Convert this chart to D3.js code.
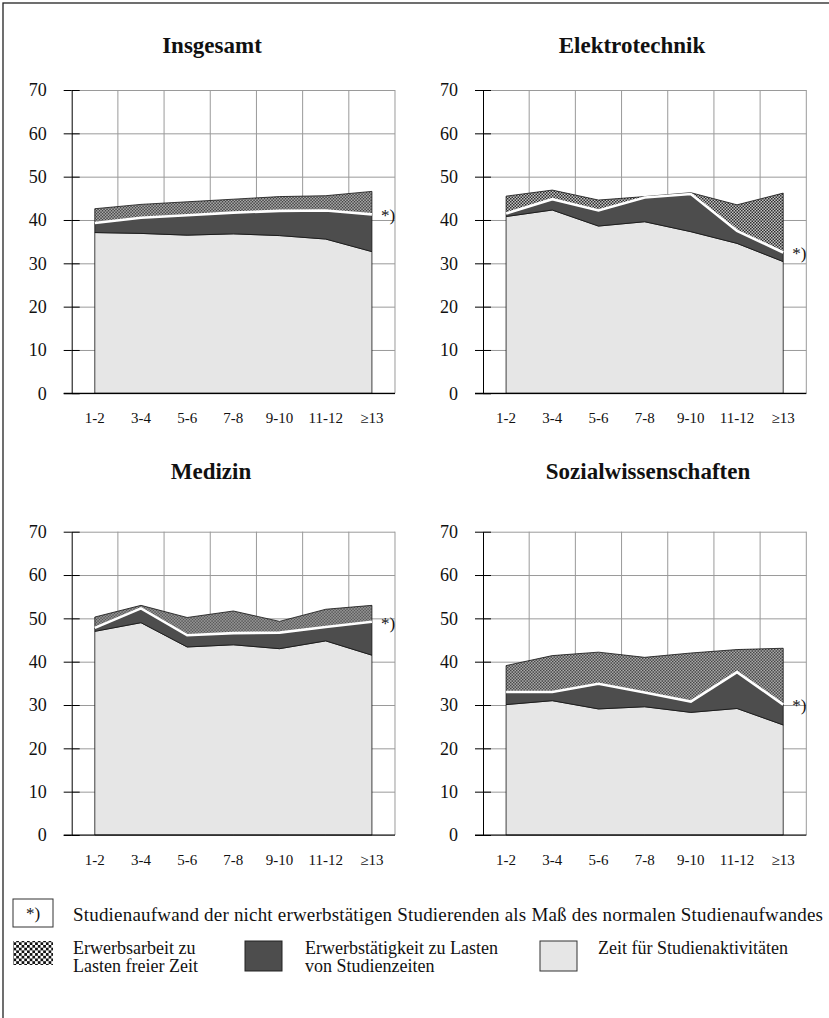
<!DOCTYPE html>
<html>
<head>
<meta charset="utf-8">
<script src="https://cdnjs.cloudflare.com/ajax/libs/d3/7.8.5/d3.min.js"></script>
<style>
body { margin: 0; background: #fff; }
text { font-family: "Liberation Serif", "Times New Roman", serif; fill: #111; }
</style>
</head>
<body>
<div id="chart"></div>
<script>
// Semester (Kategorien) und Achsenbeschriftung
var semester = ["1-2", "3-4", "5-6", "7-8", "9-10", "11-12", "≥13"];
var yTicks = [0, 10, 20, 30, 40, 50, 60, 70];
var titles = ["Insgesamt", "Elektrotechnik", "Medizin", "Sozialwissenschaften"];

// Zeit für Studienaktivitäten (Stunden pro Woche)
var studiumInsgesamt = [37.1, 36.9, 36.5, 36.8, 36.4, 35.6, 32.7];
var studiumElektro   = [40.8, 42.3, 38.6, 39.6, 37.3, 34.6, 30.4];
var studiumMedizin   = [47.0, 49.0, 43.4, 43.9, 43.0, 44.8, 41.5];
var studiumSozial    = [30.1, 31.0, 29.1, 29.6, 28.3, 29.2, 25.4];

// *) Studienaufwand der nicht erwerbstätigen Studierenden
var normInsgesamt = [39.3, 40.5, 41.1, 41.7, 42.1, 42.2, 41.3];
var normElektro   = [41.5, 44.8, 42.2, 45.2, 46.0, 37.5, 32.5];
var normMedizin   = [47.8, 52.3, 46.1, 46.6, 46.7, 48.0, 49.2];
var normSozial    = [33.0, 33.0, 34.9, 32.9, 30.8, 37.6, 30.1];

// Gesamtaufwand inkl. Erwerbsarbeit
var gesamtInsgesamt = [42.6, 43.6, 44.2, 44.8, 45.4, 45.6, 46.6];
var gesamtElektro   = [45.5, 46.9, 44.6, 45.4, 46.3, 43.5, 46.2];
var gesamtMedizin   = [50.3, 53.0, 50.2, 51.7, 49.3, 52.1, 53.0];
var gesamtSozial    = [39.1, 41.4, 42.2, 41.0, 42.0, 42.8, 43.1];

var svgWidth = 829;
var svgHeight = 1018;
var plotW = 323.3;
var plotH = 303.3;

var svg = d3.select("#chart")
    .append("svg")
    .attr("width", svgWidth)
    .attr("height", svgHeight);

var defs = svg.append("defs");

function checker(id, size, bg, fg) {
    var p = defs.append("pattern")
        .attr("id", id)
        .attr("patternUnits", "userSpaceOnUse")
        .attr("width", size * 2)
        .attr("height", size * 2);
    p.append("rect").attr("width", size * 2).attr("height", size * 2).attr("fill", bg);
    p.append("rect").attr("width", size).attr("height", size).attr("fill", fg);
    p.append("rect").attr("x", size).attr("y", size).attr("width", size).attr("height", size).attr("fill", fg);
}
checker("check", 1.5, "#c4c4c4", "#2e2e2e");
checker("checkLegend", 2.7, "#fff", "#111");

// Rahmen
svg.append("rect")
    .attr("x", 3)
    .attr("y", 3)
    .attr("width", svgWidth + 10)
    .attr("height", svgHeight + 10)
    .attr("fill", "none")
    .attr("stroke", "#222")
    .attr("stroke-width", 1.3);

var panels = [
    { title: titles[0], studium: studiumInsgesamt, norm: normInsgesamt, gesamt: gesamtInsgesamt, left: 71.7, top: 90, titleX: 212, titleY: 53 },
    { title: titles[1], studium: studiumElektro, norm: normElektro, gesamt: gesamtElektro, left: 483, top: 90, titleX: 632, titleY: 53 },
    { title: titles[2], studium: studiumMedizin, norm: normMedizin, gesamt: gesamtMedizin, left: 71.7, top: 531.7, titleX: 211, titleY: 479 },
    { title: titles[3], studium: studiumSozial, norm: normSozial, gesamt: gesamtSozial, left: 483, top: 531.7, titleX: 648, titleY: 479 }
];

var fills = { studium: "#e6e6e6", lasten: "#4d4d4d", frei: "url(#check)" };

function drawPanel(p) {
    svg.append("text")
        .attr("x", p.titleX)
        .attr("y", p.titleY)
        .attr("text-anchor", "middle")
        .attr("font-size", "23px")
        .attr("font-weight", "bold")
        .text(p.title);

    var g = svg.append("g")
        .attr("transform", `translate(${p.left}, ${p.top})`);

    var x = d3.scaleBand().domain(semester).range([0, plotW]);
    var y = d3.scaleLinear().domain([0, 70]).range([plotH, 0]);
    var cx = function (s) { return x(s) + x.bandwidth() / 2; };

    // Gitter
    g.append("g")
        .call(d3.axisLeft(y).tickValues(yTicks).tickSize(-plotW).tickFormat(""))
        .call(function (a) {
            a.select(".domain").remove();
            a.selectAll("line").attr("stroke", "#9a9a9a");
        });
    g.selectAll(".vgrid")
        .data(semester)
        .enter()
        .append("line")
        .attr("x1", d => x(d) + x.bandwidth())
        .attr("x2", d => x(d) + x.bandwidth())
        .attr("y1", y(70))
        .attr("y2", y(0))
        .attr("stroke", "#9a9a9a");

    var rows = semester.map(function (s, i) {
        return {
            sem: s,
            studium: p.studium[i],
            lasten: p.norm[i] - p.studium[i],
            frei: Math.max(0, p.gesamt[i] - p.norm[i])
        };
    });
    var layers = d3.stack().keys(["studium", "lasten", "frei"])(rows);

    var area = d3.area()
        .x(d => cx(d.data.sem))
        .y0(d => y(d[0]))
        .y1(d => y(d[1]));

    g.selectAll(".layer")
        .data(layers)
        .enter()
        .append("path")
        .attr("d", area)
        .attr("fill", d => fills[d.key])
        .attr("stroke", "#111")
        .attr("stroke-width", 0.8)
        .attr("stroke-linejoin", "round");

    var normLine = d3.line()
        .x((d, i) => cx(semester[i]))
        .y(d => y(d));

    g.append("path")
        .datum(p.norm)
        .attr("d", normLine)
        .attr("fill", "none")
        .attr("stroke", "#fff")
        .attr("stroke-width", 2.6);

    var last = semester.length - 1;
    g.append("text")
        .attr("x", cx(semester[last]) + 9)
        .attr("y", y(p.norm[last]) + 3)
        .attr("dominant-baseline", "middle")
        .attr("font-size", "17px")
        .text("*)");

    // Achsen
    g.append("g")
        .call(d3.axisLeft(y).tickValues(yTicks).tickSizeInner(8).tickSizeOuter(0).tickPadding(17))
        .call(function (a) {
            a.selectAll("text").attr("font-size", "18px").attr("font-family", null);
            a.selectAll("line").attr("stroke", "#000");
            a.select(".domain").attr("stroke", "#000");
        });
    g.append("g")
        .call(d3.axisRight(y).tickValues(yTicks).tickSize(8).tickFormat(""))
        .call(function (a) {
            a.select(".domain").remove();
            a.selectAll("line").attr("stroke", "#000");
        });
    g.append("line")
        .attr("x1", -8)
        .attr("x2", plotW)
        .attr("y1", y(0))
        .attr("y2", y(0))
        .attr("stroke", "#000")
        .attr("stroke-width", 1.2);

    g.append("g")
        .attr("transform", `translate(0, ${plotH})`)
        .call(d3.axisBottom(x).tickSize(0).tickPadding(19))
        .call(function (a) {
            a.select(".domain").remove();
            a.selectAll("text").attr("font-size", "15px").attr("font-family", null);
        });
}

panels.forEach(drawPanel);

// Legende
var legend = svg.append("g");

legend.append("rect")
    .attr("x", 13).attr("y", 899).attr("width", 40).attr("height", 28)
    .attr("fill", "#fff").attr("stroke", "#333");
legend.append("text")
    .attr("x", 33).attr("y", 919)
    .attr("text-anchor", "middle")
    .attr("font-size", "17px")
    .text("*)");
legend.append("text")
    .attr("x", 73).attr("y", 921)
    .attr("font-size", "19px")
    .attr("textLength", 750)
    .attr("lengthAdjust", "spacing")
    .text("Studienaufwand der nicht erwerbstätigen Studierenden als Maß des normalen Studienaufwandes");

var legendItems = [
    { fill: "url(#checkLegend)", stroke: "none", x: 13, w: 40, h: 24, lines: ["Erwerbsarbeit zu", "Lasten freier Zeit"], tx: 73 },
    { fill: "#4d4d4d", stroke: "#222", x: 245, w: 37, h: 30, lines: ["Erwerbstätigkeit zu Lasten", "von Studienzeiten"], tx: 305 },
    { fill: "#e6e6e6", stroke: "#333", x: 540, w: 37, h: 30, lines: ["Zeit für Studienaktivitäten"], tx: 598 }
];

legendItems.forEach(function (item) {
    legend.append("rect")
        .attr("x", item.x).attr("y", 941)
        .attr("width", item.w).attr("height", item.h)
        .attr("fill", item.fill)
        .attr("stroke", item.stroke);
    item.lines.forEach(function (line, i) {
        legend.append("text")
            .attr("x", item.tx)
            .attr("y", 954 + i * 18)
            .attr("font-size", "18px")
            .text(line);
    });
});
</script>
</body>
</html>
